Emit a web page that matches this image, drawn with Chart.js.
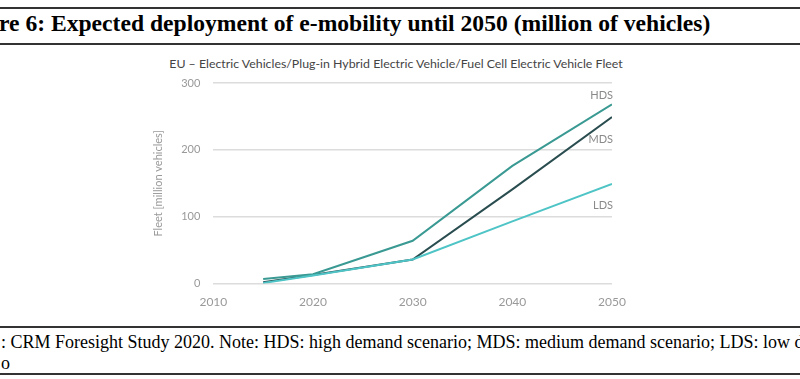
<!DOCTYPE html>
<html>
<head>
<meta charset="utf-8">
<script src="https://cdn.jsdelivr.net/npm/chart.js@4.4.1/dist/chart.umd.min.js"></script>
<style>
  html, body { margin: 0; padding: 0; width: 800px; height: 379px; overflow: hidden; background: #fff; }
  .rule { position: absolute; left: 0; width: 800px; background: #333; }
  .doc { position: absolute; left: 0; white-space: nowrap; font-family: "Liberation Serif", "Times New Roman", serif; color: #000; }
  #wrap { position: absolute; left: 0; top: 48px; width: 800px; height: 272px; }
  #ctitle { position: absolute; top: 56px; left: 0; width: 792px; text-align: center; font-family: Lato, sans-serif; font-size: 12.35px; color: #444; white-space: nowrap; }
</style>
</head>
<body>
<div class="rule" style="top:7px;height:2px;"></div>
<div class="doc" style="top:10px;left:-1px;font-size:23.6px;font-weight:bold;">re 6: Expected deployment of e-mobility until 2050 (million of vehicles)</div>
<div class="rule" style="top:43px;height:2px;"></div>
<div class="rule" style="top:326px;height:2px;"></div>
<div class="doc" style="top:332px;left:1px;font-size:18px;">: CRM Foresight Study 2020. Note: HDS: high demand scenario; MDS: medium demand scenario; LDS: low demand scenario</div>
<div class="doc" style="top:353px;left:1px;font-size:18px;">o</div>
<div class="rule" style="top:373px;height:2px;"></div>
<div id="ctitle"></div>
<div id="wrap"><canvas id="c" width="800" height="272"></canvas></div>
<script>
const chartTitle = "EU \u2013 Electric Vehicles/Plug-in Hybrid Electric Vehicle/Fuel Cell Electric Vehicle Fleet";
const yAxisTitle = "Fleet [million vehicles]";
const years = [2015, 2020, 2030, 2040, 2050];
const seriesNames = ["HDS", "MDS", "LDS"];
const hds = [7, 14, 64, 176, 268];
const mds = [2, 13, 36, 141, 249];
const lds = [1, 12, 36, 93, 149];
const xTicks = [2010, 2020, 2030, 2040, 2050];
const yTicks = [0, 100, 200, 300];

document.getElementById("ctitle").textContent = chartTitle;

const colors = { HDS: "#3a9a93", MDS: "#2a4d50", LDS: "#4ec4c6" };
const labelOffsets = { HDS: -9, MDS: 22, LDS: 21 };

function pts(vals) { return years.map((y, i) => ({ x: y, y: vals[i] })); }

const endLabels = {
  id: "endLabels",
  afterDatasetsDraw(chart) {
    const ctx = chart.ctx;
    ctx.save();
    ctx.font = "11px Lato, sans-serif";
    ctx.fillStyle = "#8a8a8a";
    ctx.textAlign = "right";
    ctx.textBaseline = "middle";
    chart.data.datasets.forEach((ds, i) => {
      const meta = chart.getDatasetMeta(i);
      const last = meta.data[meta.data.length - 1];
      ctx.fillText(ds.label, last.x + 1, last.y + labelOffsets[ds.label]);
    });
    ctx.restore();
  }
};

new Chart(document.getElementById("c"), {
  type: "line",
  data: {
    datasets: [
      { label: "LDS", data: pts(lds), borderColor: colors.LDS, order: 0 },
      { label: "HDS", data: pts(hds), borderColor: colors.HDS, order: 1 },
      { label: "MDS", data: pts(mds), borderColor: colors.MDS, order: 2 }
    ]
  },
  options: {
    responsive: false,
    animation: false,
    devicePixelRatio: 1,
    layout: { padding: { left: 152, right: 188, top: 35, bottom: 0 } },
    elements: { line: { borderWidth: 2, tension: 0 }, point: { radius: 0 } },
    plugins: {
      legend: { display: false },
      tooltip: { enabled: false },
      title: { display: false }
    },
    scales: {
      x: {
        type: "linear",
        min: 2010, max: 2050,
        afterBuildTicks(axis) { axis.ticks = xTicks.map(v => ({ value: v })); },
        grid: { display: false, drawTicks: false },
        border: { display: false },
        ticks: {
          color: "#999",
          font: { family: "Lato, sans-serif", size: 12 },
          padding: 11,
          maxRotation: 0,
          callback: v => String(v)
        }
      },
      y: {
        min: 0, max: 300,
        afterBuildTicks(axis) { axis.ticks = yTicks.map(v => ({ value: v })); },
        grid: { color: "#dcdcdc", lineWidth: 1.5, drawTicks: false },
        border: { display: false },
        ticks: {
          color: "#999",
          font: { family: "Lato, sans-serif", size: 11 },
          padding: 13
        },
        title: {
          display: true,
          text: yAxisTitle,
          color: "#999",
          font: { family: "Lato, sans-serif", size: 11 },
          padding: { top: 0, bottom: 3 }
        }
      }
    }
  },
  plugins: [endLabels]
});
</script>
</body>
</html>
